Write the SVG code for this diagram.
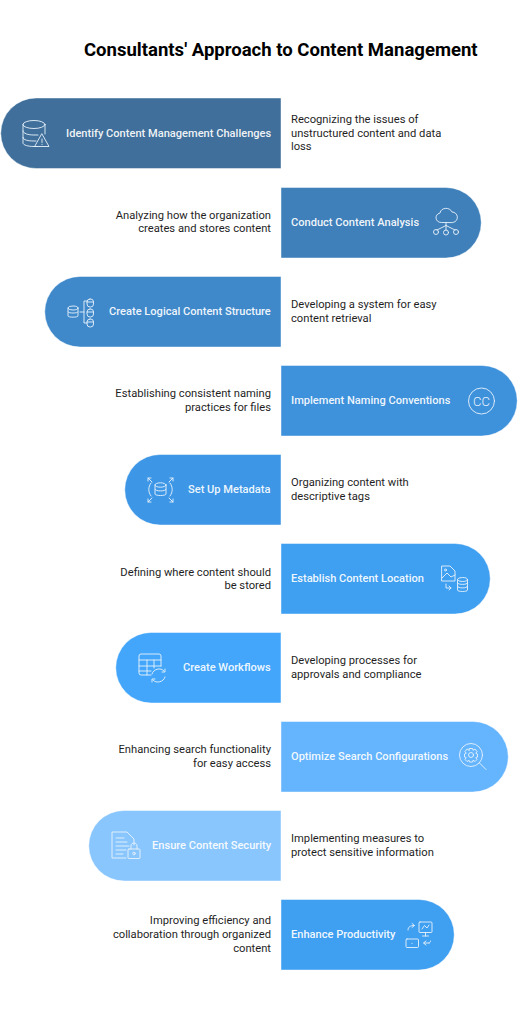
<svg xmlns="http://www.w3.org/2000/svg" width="531" height="1024" viewBox="0 0 531 1024">
<style>
text{font-family:Roboto,"Liberation Sans",sans-serif}
.t{font-size:18.55px;font-weight:700;fill:#000}
.l{font-size:11.08px;font-weight:500;fill:#fff;fill-opacity:.93}
.d{font-size:11.2px;font-weight:400;fill:#1f1f1f}
.e{text-anchor:end}
.o{fill:none;stroke:#e8f2fb;stroke-opacity:.9;stroke-width:1;stroke-linecap:round;stroke-linejoin:round}
.p{stroke:#fff;stroke-opacity:.45;stroke-width:1}
</style>
<rect width="531" height="1024" fill="#fff"/>
<text class="t" x="84" y="56">Consultants' Approach to Content Management</text>

<g id="n1">
<path class="p" fill="#3f6f9a" d="M281 98H36A35.250 35.250 0 0 0 36 168.500H281Z"/>
<text class="l" x="66" y="137">Identify Content Management Challenges</text>
<g class="o"><ellipse cx="34" cy="124.500" rx="11" ry="4"/><path d="M23 124.500V143C23 145 28 146.500 34 146.500H37M45 124.500V134M23 131C23 133.500 28 135 34 135H38M23 137.500C23 140 28 141 34 141H36"/><path d="M42 134L49 146.500H35Z"/><path d="M42 139V142.500M42 144.300V144.500"/></g>
<text class="d" x="291" y="123">Recognizing the issues of</text><text class="d" x="291" y="137">unstructured content and data</text><text class="d" x="291" y="150">loss</text>
</g>
<g id="n2">
<path class="p" fill="#3f80ba" d="M281 187.500H446A35.250 35.250 0 0 1 446 258H281Z"/>
<text class="l" x="291" y="226">Conduct Content Analysis</text>
<g class="o"><path d="M441 222.500C435 222.500 434 214.500 440 213C441 207 450 207 452 212C458 212 460 221 453 222.500Z"/><path d="M446 222.500V230M446 225.500L437 230M446 225.500L455 230"/><circle cx="436" cy="232" r="2.500"/><circle cx="446" cy="232.500" r="2.500"/><circle cx="456" cy="232" r="2.500"/></g>
<text class="d e" x="271" y="219">Analyzing how the organization</text><text class="d e" x="271" y="232">creates and stores content</text>
</g>
<g id="n3">
<path class="p" fill="#3f89cb" d="M281 276.500H80A35.250 35.250 0 0 0 80 347H281Z"/>
<text class="l" x="109" y="315">Create Logical Content Structure</text>
<g class="o"><ellipse cx="73" cy="308" rx="5" ry="2"/><path d="M68 308V316C68 317.500 78 317.500 78 316V308M68 312C68 313.500 78 313.500 78 312"/><path d="M80 312H84M87 301H84V323H87"/><rect x="87" y="299" width="6.500" height="8" rx="3"/><rect x="87" y="309" width="6.500" height="8" rx="3"/><rect x="87" y="319" width="6.500" height="8" rx="3"/><path d="M87 302H93.500M87 312H93.500M87 322H93.500"/></g>
<text class="d" x="291" y="308">Developing a system for easy</text><text class="d" x="291" y="322">content retrieval</text>
</g>
<g id="n4">
<path class="p" fill="#3e91db" d="M281 365.500H482A35.250 35.250 0 0 1 482 436H281Z"/>
<text class="l" x="291" y="404">Implement Naming Conventions</text>
<g class="o"><circle cx="481.500" cy="401" r="13"/></g>
<text x="481.500" y="405.500" text-anchor="middle" style="font-size:13px;fill:#e8f2fb;font-weight:300">CC</text>
<text class="d e" x="271" y="397">Establishing consistent naming</text><text class="d e" x="271" y="411">practices for files</text>
</g>
<g id="n5">
<path class="p" fill="#3e97e6" d="M281 454.500H160A35.250 35.250 0 0 0 160 525H281Z"/>
<text class="l" x="188" y="493">Set Up Metadata</text>
<g class="o"><ellipse cx="160.500" cy="485" rx="5.500" ry="2.200"/><path d="M155 485V494C155 496 166 496 166 494V485M155 489.500C155 491.500 166 491.500 166 489.500"/><path d="M151 483C148 487 148 492 151 496M170 483C173 487 173 492 170 496"/><path d="M152 482L148 478M148 481V478H151M169 482L173 478M173 481V478H170M152 498L148 502M148 499V502H151M169 498L173 502M173 499V502H170"/></g>
<text class="d" x="291" y="486">Organizing content with</text><text class="d" x="291" y="500">descriptive tags</text>
</g>
<g id="n6">
<path class="p" fill="#3f9ff0" d="M281 543.500H455A35.250 35.250 0 0 1 455 614H281Z"/>
<text class="l" x="291" y="582">Establish Content Location</text>
<g class="o"><path d="M442 566H450L455 571V581H442Z"/><circle cx="445.500" cy="570" r="1"/><path d="M442 578L447 573L451 577L455 575"/><path d="M446 584V588H451M449 586L451 588L449 590"/><ellipse cx="462.500" cy="579.500" rx="5" ry="2"/><path d="M457.500 579.500V590C457.500 592 467.500 592 467.500 590V579.500M457.500 583C457.500 585 467.500 585 467.500 583M457.500 586.500C457.500 588.500 467.500 588.500 467.500 586.500"/></g>
<text class="d e" x="271" y="576">Defining where content should</text><text class="d e" x="271" y="589">be stored</text>
</g>
<g id="n7">
<path class="p" fill="#43a6fb" d="M281 632.500H151A35.250 35.250 0 0 0 151 703H281Z"/>
<text class="l" x="183" y="671">Create Workflows</text>
<g class="o"><path d="M151 675H141A2 2 0 0 1 139 673V656A2 2 0 0 1 141 654H159A2 2 0 0 1 161 656V666"/><path d="M139 660H161M139 666H161M139 671H151M147 660V675M154 660V668"/><path d="M152 674C153 669 161 667 164 671M165 669V672H162M165 677C164 682 156 684 153 680M152 682V679H155"/></g>
<text class="d" x="291" y="664">Developing processes for</text><text class="d" x="291" y="678">approvals and compliance</text>
</g>
<g id="n8">
<path class="p" fill="#64b4fe" d="M281 721.500H473A35.250 35.250 0 0 1 473 792H281Z"/>
<text class="l" x="291" y="760">Optimize Search Configurations</text>
<g class="o"><circle cx="471" cy="755" r="11.500"/><circle cx="471" cy="755" r="2.500"/><path d="M469.500 748.500H472.500L473 750.300L475 749L477 751.500L475.800 753.300L477.500 754V757L475.800 757.500L477 759.500L475 761.500L473 760.300L472.500 762H469.500L469 760.300L467 761.500L465 759.500L466.200 757.500L464.500 757V754L466.200 753.300L465 751.500L467 749L469 750.300Z"/><path d="M479.500 763L486 769.500"/></g>
<text class="d e" x="271" y="753">Enhancing search functionality</text><text class="d e" x="271" y="767">for easy access</text>
</g>
<g id="n9">
<path class="p" fill="#8ac6fe" d="M281 810.500H124A35.250 35.250 0 0 0 124 881H281Z"/>
<text class="l" x="152" y="849">Ensure Content Security</text>
<g class="o"><path d="M126 858H112V832H127L134 839V845"/><path d="M116 838H124M116 842H127M116 846H129M116 850H126M116 854H123"/><rect x="128" y="849" width="12" height="9.500" rx="1"/><path d="M131 849V846C131 842 137 842 137 846V849"/><circle cx="134" cy="853.500" r="1.300"/></g>
<text class="d" x="291" y="842">Implementing measures to</text><text class="d" x="291" y="856">protect sensitive information</text>
</g>
<g id="n10">
<path class="p" fill="#3f9ff0" d="M281 899.500H419A35.250 35.250 0 0 1 419 970H281Z"/>
<text class="l" x="291" y="938">Enhance Productivity</text>
<g class="o"><rect x="419" y="922" width="13" height="10.500" rx="1"/><path d="M422 929L424.500 925.500L427 928L429 925M425.500 932.500V936M422.500 936H428.500"/><rect x="406" y="939" width="12.500" height="8.500" rx="1"/><path d="M412 943.300V943.500"/><path d="M408 930C408 927 410 925.500 414 925.500M412 923.500L414.500 925.500L412 927.500"/><path d="M429 943H424M426 941L423.500 943L426 945M429 943C430 943 430.500 942 430.500 941"/></g>
<text class="d e" x="271" y="924">Improving efficiency and</text><text class="d e" x="271" y="938">collaboration through organized</text><text class="d e" x="271" y="952">content</text>
</g>
</svg>
